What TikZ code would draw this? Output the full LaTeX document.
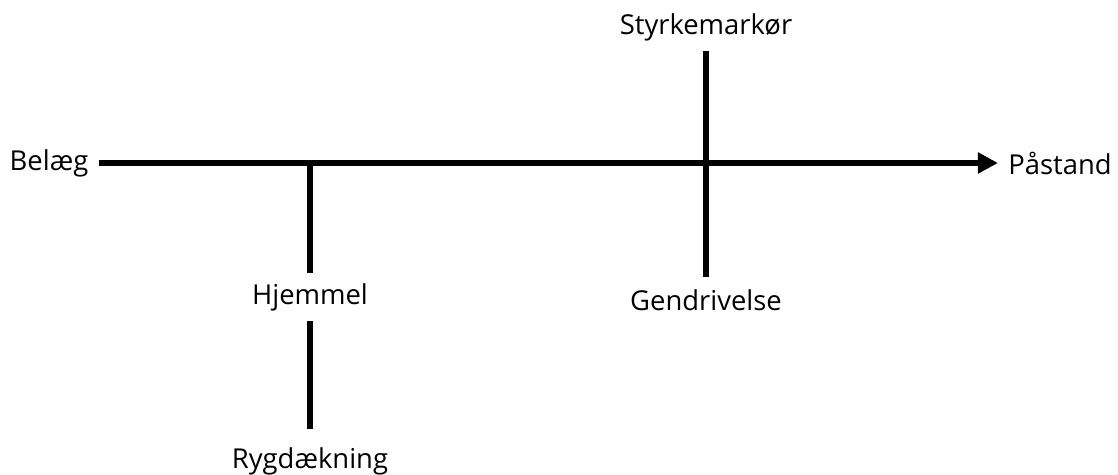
\documentclass[tikz,border=0pt]{standalone}
\usepackage{fontspec}
\setmainfont{Open Sans}
\usetikzlibrary{arrows.meta}
\begin{document}
\begin{tikzpicture}[x=0.02cm, y=-0.02cm, >={Triangle[length=0.4cm,width=0.4cm]},
    lbl/.style={inner sep=0pt, font=\fontsize{15.6}{18}\selectfont},
    bar/.style={line width=3.4pt}]
\useasboundingbox (0,0) rectangle (1118,475);
\node[lbl] (belaeg) at (49,163) {Belæg};
\node[lbl] (paastand) at (1060,163) {Påstand};
\node[lbl] (hjemmel) at (310,297) {Hjemmel};
\node[lbl] (ryg) at (310,461) {Rygdækning};
\node[lbl] (styrke) at (706,27) {Styrkemarkør};
\node[lbl] (gendriv) at (706,300) {Gendrivelse};
\coordinate (j1) at (310,163);
\draw[bar, ->, shorten <=10*0.02cm, shorten >=10*0.02cm] (belaeg) -- (paastand);
\draw[bar, shorten <=10*0.02cm] (hjemmel) -- (j1);
\draw[bar, shorten <=10*0.02cm, shorten >=18*0.02cm] (hjemmel) -- (ryg);
\draw[bar, shorten <=10*0.02cm, shorten >=12*0.02cm] (styrke) -- (gendriv);
\end{tikzpicture}
\end{document}
